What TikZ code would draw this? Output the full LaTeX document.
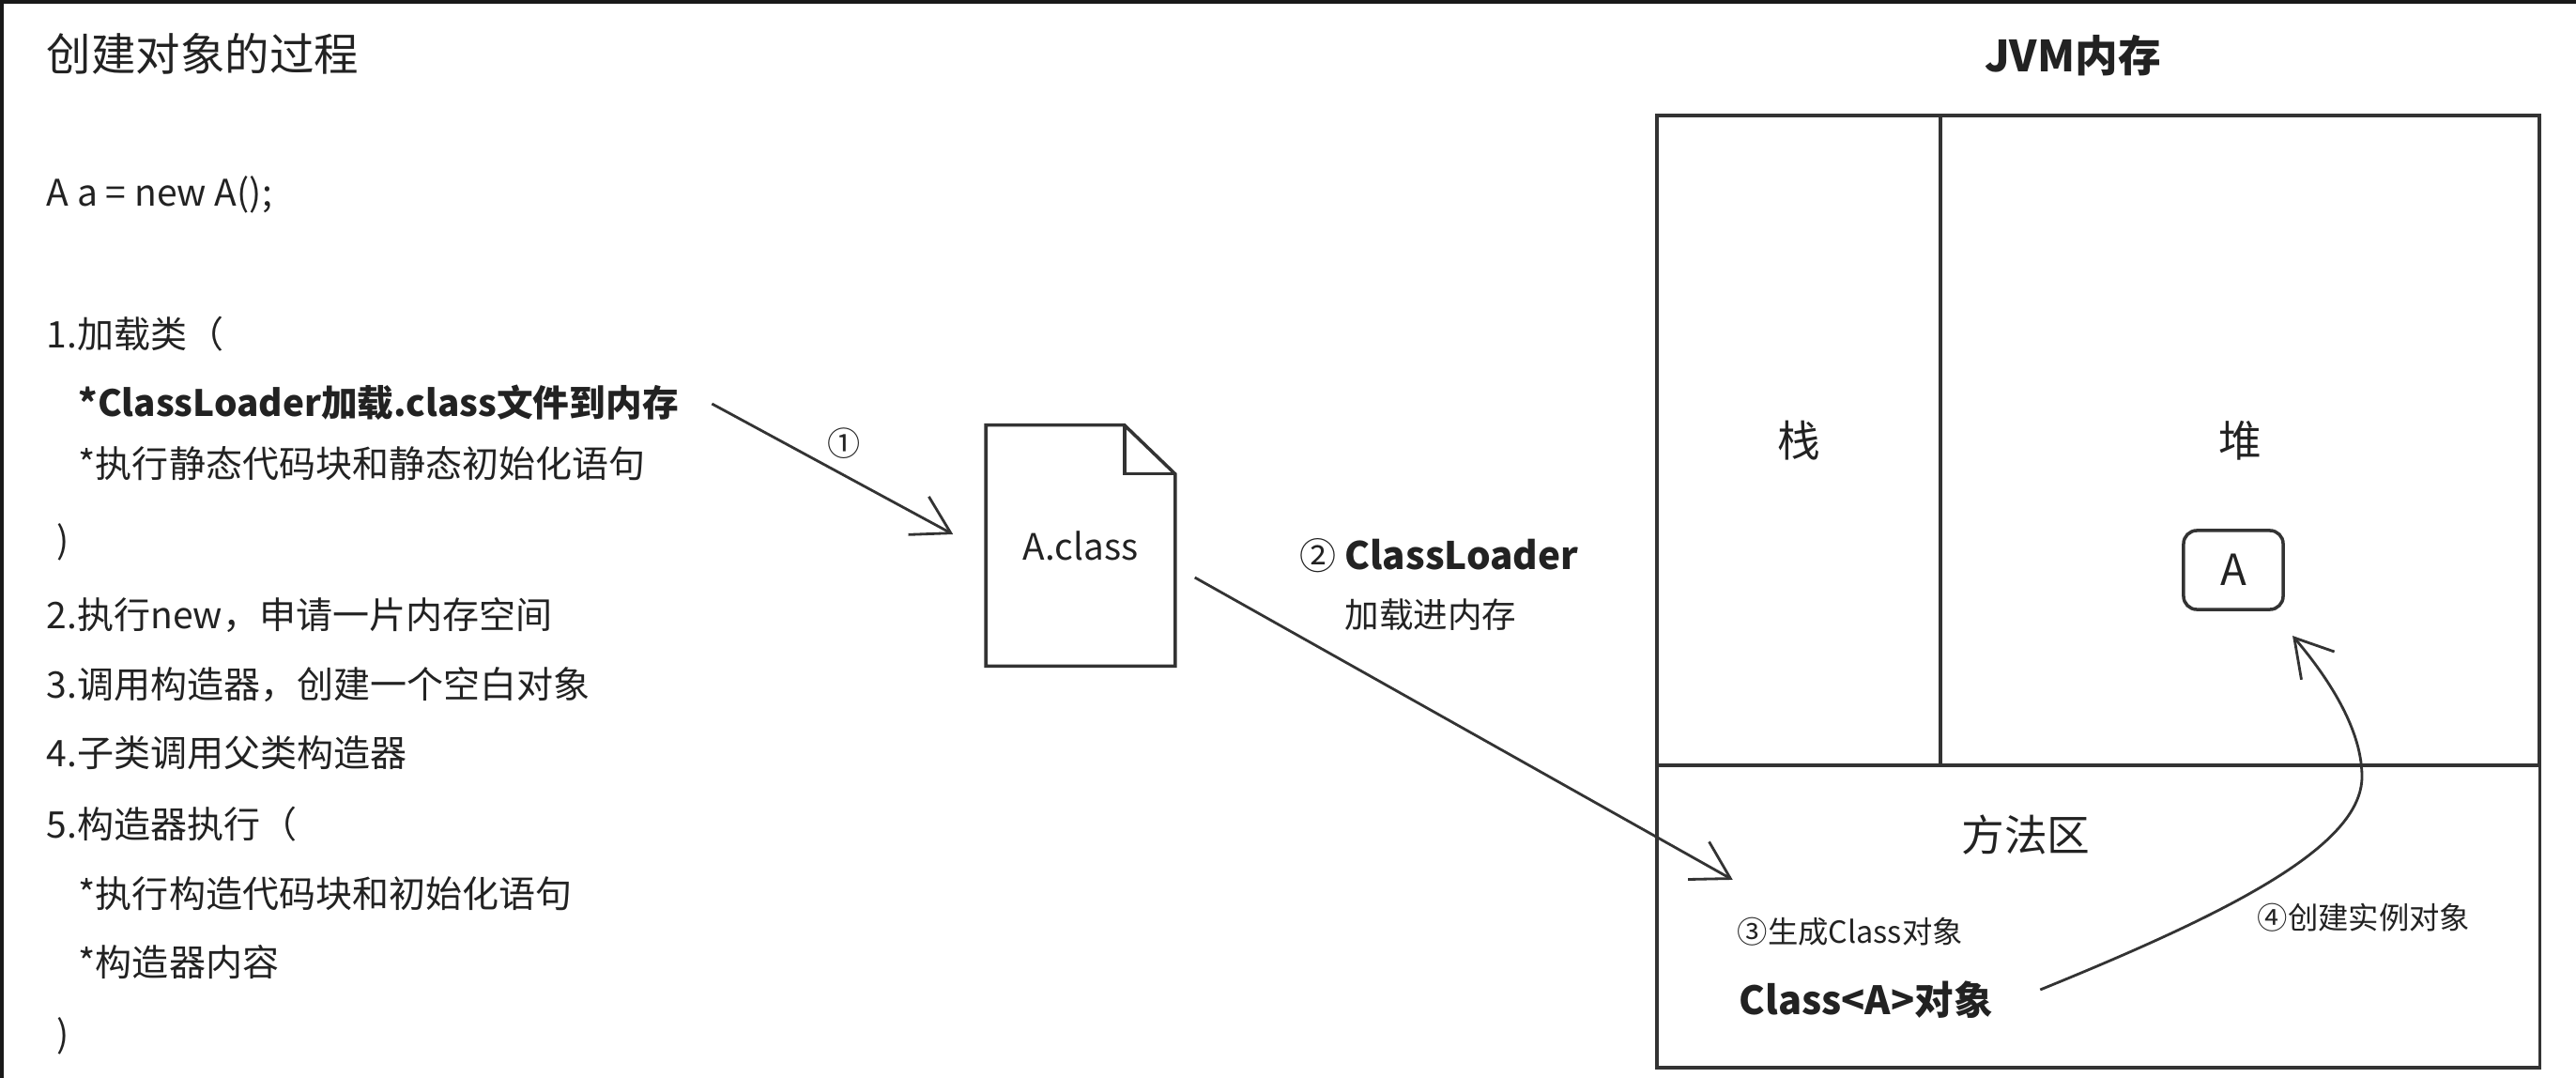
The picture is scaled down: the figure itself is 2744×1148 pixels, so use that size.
\documentclass[tikz,border=0pt]{standalone}
\usepackage{fontspec}
\setmainfont{Noto Sans CJK SC}
\usetikzlibrary{arrows.meta,calc}
\definecolor{ink}{HTML}{222222}
\definecolor{rule}{HTML}{333333}
\tikzset{
  line/.style   = {draw=rule, line width=1pt},
  post/.style   = {-{Straight Barb[length=3.9mm,width=4.6mm,line width=0.8pt]}, draw=rule, line width=0.8pt},
  item/.style   = {anchor=west, inner sep=0pt, text=ink, font=\fontsize{11.1}{13}\selectfont},
  region/.style = {draw=rule, line width=1pt, inner sep=0pt, outer sep=0pt, text=ink, font=\fontsize{13}{15}\selectfont},
  note/.style   = {inner sep=0pt, text=ink, font=\fontsize{9.2}{11}\selectfont}
}

\begin{document}
\begin{tikzpicture}[x=0.01cm, y=-0.01cm]
  \useasboundingbox (0,0) rectangle (2744,1148);
  \fill[black!90] (0,0) rectangle (2744,4);
  \fill[black!90] (0,0) rectangle (4,1148);

  % steps
  \node[item, font=\fontsize{13.5}{16}\selectfont] (title) at (49,57) {创建对象的过程};
  \node[item] (code) at (49,207) {A a = new A();};
  \node[item] (s1)  at (49,356)  {1.加载类（};
  \node[item, font=\fontsize{11}{13}\selectfont\bfseries] (s1a) at (83,429) {*ClassLoader加载.class文件到内存};
  \node[item] (s1b) at (83,494)  {*执行静态代码块和静态初始化语句};
  \node[item] (s1c) at (60,577)  {)};
  \node[item] (s2)  at (49,655)  {2.执行new，申请一片内存空间};
  \node[item] (s3)  at (49,729)  {3.调用构造器，创建一个空白对象};
  \node[item] (s4)  at (49,802)  {4.子类调用父类构造器};
  \node[item] (s5)  at (49,878)  {5.构造器执行（};
  \node[item] (s5a) at (83,952)  {*执行构造代码块和初始化语句};
  \node[item] (s5b) at (83,1025) {*构造器内容};
  \node[item] (s5c) at (60,1103) {)};

  % class file
  \node[inner sep=0pt, minimum width=2cm, minimum height=2.55cm, text=ink,
        font=\fontsize{11}{13}\selectfont] (doc) at (1151,581) {A.class};
  \draw[line] (doc.south west) -- (doc.north west) -- ($(doc.north east)+(-54,0)$)
    -- ($(doc.north east)+(0,52)$) -- (doc.south east) -- cycle;
  \draw[line] ($(doc.north east)+(-54,0)$) |- ($(doc.north east)+(0,52)$);

  % JVM memory
  \node[font=\fontsize{13}{15}\selectfont\bfseries, text=ink] (jvm) at (2208,59) {JVM内存};
  \node[region, minimum width=3.02cm, minimum height=6.92cm] (stack) at (1916,469) {栈};
  \node[region, minimum width=6.38cm, minimum height=6.92cm] (heap) at (2386,469) {堆};
  \node[region, minimum width=9.4cm, minimum height=3.22cm] (meth) at (2235,976) {};
  \node[region, draw=none] (methl) at (2158,889) {方法区};
  \node[region, rounded corners=4pt, minimum width=1.06cm, minimum height=0.84cm] (objA) at (2379,607) {A};
  \node[note, anchor=west] (n3) at (1850,992) {③生成Class对象};
  \node[item, font=\fontsize{11.8}{14}\selectfont\bfseries] (cA) at (1852,1065) {Class<A>对象};
  \node[note, anchor=west] (n4) at (2404,977) {④创建实例对象};

  % connectors
  \draw[post] ($(s1a.east)+(35,1)$) -- ($(doc.west)+(-35,-12)$);
  \node[note, font=\fontsize{10}{12}\selectfont] (n1) at (899,472) {①};
  \draw[post] ($(doc.east)+(21,34)$) -- ($(meth.north west)+(81,122)$);
  \node[item] (n2) at (1384,592) {② \textbf{\fontsize{11.5}{14}\selectfont ClassLoader}};
  \node[note, font=\fontsize{10.4}{12}\selectfont] (n2b) at (1524,655) {加载进内存};
  \draw[post] ($(cA.east)+(50,-11)$) .. controls (2380,970) and (2516,900) .. (2516,827)
    .. controls (2516,770) and (2470,710) .. ($(objA.south east)+(10,28)$);
\end{tikzpicture}
\end{document}
